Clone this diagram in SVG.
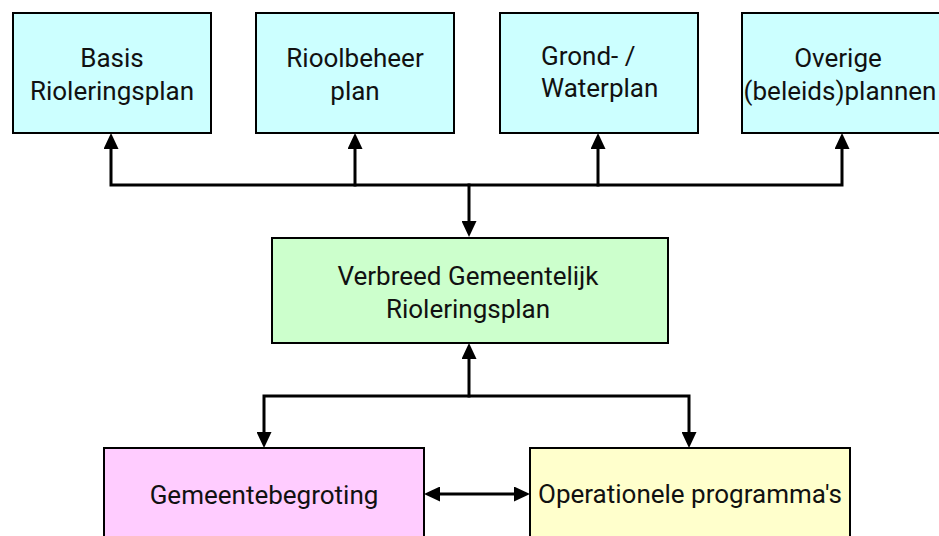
<svg xmlns="http://www.w3.org/2000/svg" width="939" height="536" viewBox="0 0 939 536">
<style>
.box{stroke:#000;stroke-width:2}
.cyan{fill:#CCFFFF}.green{fill:#CCFFCC}.pink{fill:#FFCCFF}.yellow{fill:#FFFFCC}
.t{font-family:Roboto,"Noto Sans","Liberation Sans",sans-serif;font-size:26px;fill:#111;text-anchor:middle}
.ln{fill:none;stroke:#000;stroke-width:3;stroke-linejoin:miter;stroke-linecap:square}
</style>
<defs>
<marker id="ah" viewBox="0 0 16 15" markerWidth="16" markerHeight="15" markerUnits="userSpaceOnUse" refX="6" refY="7.5" orient="auto-start-reverse">
<path d="M0,0 L16,7.5 L0,15 Z" fill="#000"/>
</marker>
</defs>
<rect width="939" height="536" fill="#fff"/>
<g id="connectors">
<polyline class="ln" points="111,143 111,185 842,185 842,143" marker-start="url(#ah)" marker-end="url(#ah)"/>
<line class="ln" x1="355" y1="185" x2="355" y2="143" marker-end="url(#ah)"/>
<line class="ln" x1="598" y1="185" x2="598" y2="143" marker-end="url(#ah)"/>
<line class="ln" x1="469" y1="185" x2="469" y2="227" marker-end="url(#ah)"/>
<line class="ln" x1="469" y1="396" x2="469" y2="353" marker-end="url(#ah)"/>
<polyline class="ln" points="264,438 264,396 689,396 689,438" marker-start="url(#ah)" marker-end="url(#ah)"/>
<line class="ln" x1="434" y1="494" x2="520" y2="494" marker-start="url(#ah)" marker-end="url(#ah)"/>
</g>
<g id="basis">
<rect class="box cyan" x="13" y="13" width="198" height="120"/>
<text class="t" x="112" y="67">Basis</text>
<text class="t" x="112" y="100">Rioleringsplan</text>
</g>
<g id="rioolbeheer">
<rect class="box cyan" x="256" y="13" width="198" height="120"/>
<text class="t" x="355" y="67">Rioolbeheer</text>
<text class="t" x="355" y="100">plan</text>
</g>
<g id="grondwater">
<rect class="box cyan" x="500" y="13" width="198" height="120"/>
<text class="t" x="541" y="65" style="text-anchor:start">Grond- /</text>
<text class="t" x="541" y="97" style="text-anchor:start">Waterplan</text>
</g>
<g id="overige">
<rect class="box cyan" x="742" y="13" width="200" height="120"/>
<text class="t" x="838" y="67">Overige</text>
<text class="t" x="840" y="100">(beleids)plannen</text>
</g>
<g id="vgrp">
<rect class="box green" x="272" y="238" width="396" height="105"/>
<text class="t" x="468" y="285">Verbreed Gemeentelijk</text>
<text class="t" x="468" y="318">Rioleringsplan</text>
</g>
<g id="begroting">
<rect class="box pink" x="104" y="448" width="320" height="100"/>
<text class="t" x="264" y="504">Gemeentebegroting</text>
</g>
<g id="programmas">
<rect class="box yellow" x="530" y="448" width="320" height="100"/>
<text class="t" x="690" y="503">Operationele programma's</text>
</g>
</svg>
